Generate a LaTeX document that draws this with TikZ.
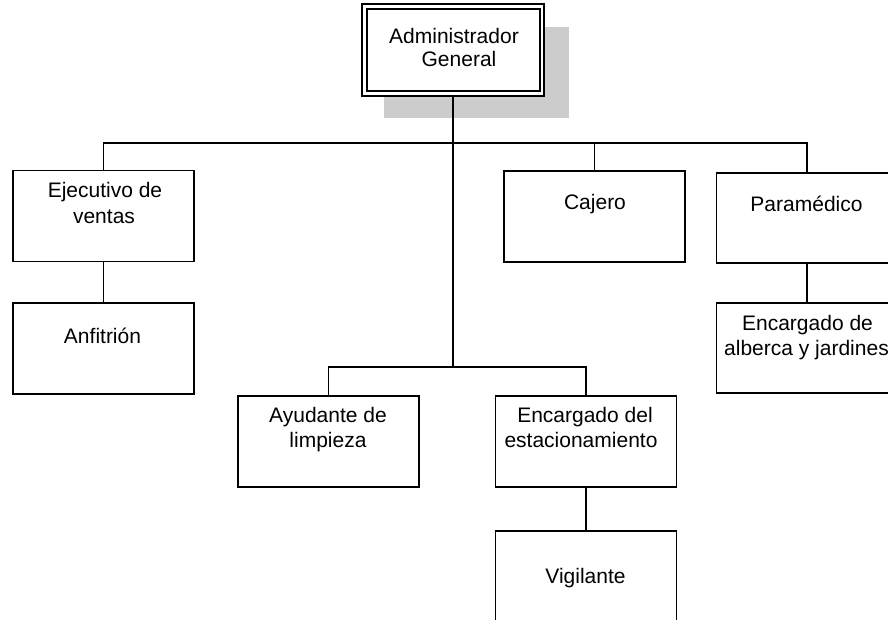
\documentclass[tikz,border=0pt]{standalone}
\usepackage{fontspec}
\setmainfont{Liberation Sans}
\definecolor{shadowgray}{RGB}{204,204,204}
\begin{document}
\begin{tikzpicture}[x=1pt,y=-1pt,
  box/.style={draw=black, fill=white, line width=1.8pt, rectangle, inner sep=0pt,
    minimum width=181pt, minimum height=91pt},
  lbl/.style={anchor=base, inner sep=0pt, font=\fontsize{21}{26}\selectfont},
  conn/.style={draw=black, line width=1.8pt},
  trunk/.style={draw=black, line width=2.8pt}]
\useasboundingbox (0,0) rectangle (888,620);
% shadow and top box
\fill[shadowgray] (384,27) rectangle (569,118);
\node[box, line width=2.2pt, minimum width=182pt, minimum height=92pt] (admin) at (453,50) {};
\node[draw=black, line width=1.2pt, inner sep=0pt, minimum width=173pt, minimum height=82pt] (adminin) at (453.5,50) {};
\node[lbl] (t1) at (454,44) {Administrador};
\node[lbl] (t2) at (459,67) {General};
% boxes
\node[box] (ejec) at (103.5,216) {};
\node[box] (anf) at (103.5,348.5) {};
\node[box] (caj) at (594.5,216.5) {};
\node[box, minimum height=90pt] (para) at (807,218) {};
\node[box, minimum height=90pt] (alb) at (807,348) {};
\node[box] (ayu) at (328.5,441.5) {};
\node[box] (est) at (586,441.5) {};
\node[box] (vig) at (586,576.5) {};
% labels
\node[lbl] (l1) at (105,198) {Ejecutivo de};
\node[lbl] (l2) at (104,224) {ventas};
\node[lbl] (l3) at (102.5,343) {Anfitrión};
\node[lbl] (l4) at (595,210) {Cajero};
\node[lbl] (l5) at (806.5,212) {Paramédico};
\node[lbl] (l6) at (807.5,330) {Encargado de};
\node[lbl] (l7) at (806.5,355) {alberca y jardines};
\node[lbl] (l8) at (328,422) {Ayudante de};
\node[lbl] (l9) at (328,447) {limpieza};
\node[lbl] (l10) at (585,422) {Encargado del};
\node[lbl] (l11) at (581,447) {estacionamiento};
\node[lbl] (l12) at (585.5,583) {Vigilante};
% connectors
\coordinate (bus) at (453,143);
\coordinate (lbus) at (453,367);
\draw[conn] (ejec.north) |- (bus) -| (para.north);
\draw[conn] (caj.north) -- (caj.north |- bus);
\draw[conn] (ayu.north) |- (lbus) -| (est.north);
\draw[trunk] (admin.south) -- (lbus);
\draw[conn] (ejec.south) -- (anf.north);
\draw[conn] (para.south) -- (alb.north);
\draw[conn] (est.south) -- (vig.north);
\end{tikzpicture}
\end{document}
